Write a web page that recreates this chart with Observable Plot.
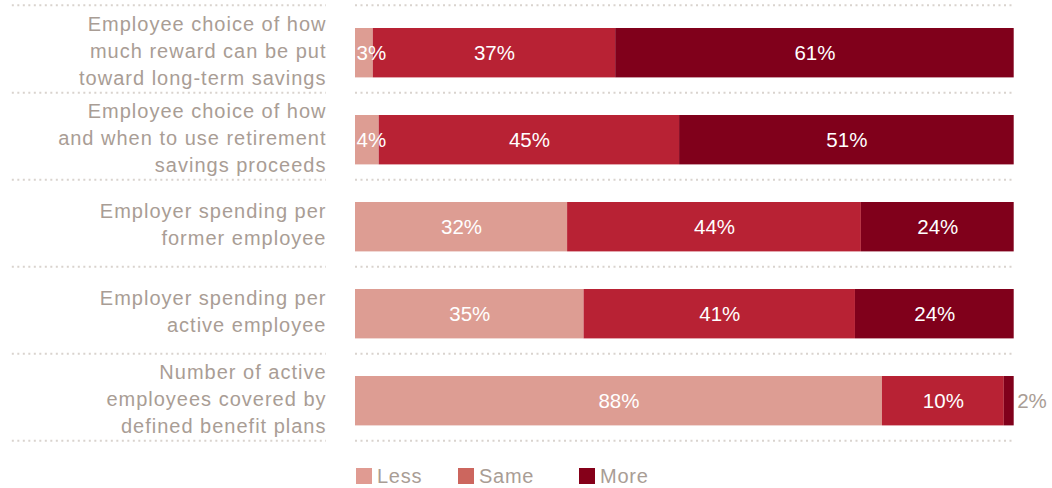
<!DOCTYPE html>
<html>
<head>
<meta charset="utf-8">
<script src="https://cdn.jsdelivr.net/npm/d3@7"></script>
<script src="https://cdn.jsdelivr.net/npm/@observablehq/plot@0.6"></script>
<style>
  html, body { margin: 0; padding: 0; background: #fff; }
  body { width: 1052px; height: 488px; overflow: hidden; font-family: "Liberation Sans", Arial, Helvetica, sans-serif; }
  #legend { height: 24px; margin-top: 12px; position: relative; font-size: 20px; line-height: 24px; color: #a99d95; letter-spacing: 0.75px; }
  .item { position: absolute; top: 0; display: flex; align-items: center; }
  .sw { width: 16px; height: 16px; margin-right: 5px; display: inline-block; }
</style>
</head>
<body>
<div id="chart"></div>
<div id="legend"></div>
<script>
const questions = [
  "Employee choice of how\nmuch reward can be put\ntoward long-term savings",
  "Employee choice of how\nand when to use retirement\nsavings proceeds",
  "Employer spending per\nformer employee",
  "Employer spending per\nactive employee",
  "Number of active\nemployees covered by\ndefined benefit plans"
];
const categories = ["Less", "Same", "More"];
// bar lengths as drawn (percent of bar width)
const lessValues = [2.7, 3.6, 32.2, 34.7, 80];
const sameValues = [36.8, 45.6, 44.6, 41.2, 18.5];
const moreValues = [60.5, 50.8, 23.2, 24.1, 1.5];
// printed labels
const lessLabels = ["3%", "4%", "32%", "35%", "88%"];
const sameLabels = ["37%", "45%", "44%", "41%", "10%"];
const moreLabels = ["61%", "51%", "24%", "24%", "2%"];
// label placement
const lessPlace = ["start", "start", "center", "center", "center"];
const samePlace = ["center", "center", "center", "center", "center"];
const morePlace = ["center", "center", "center", "center", "out"];

const barColors = ["#dd9d93", "#b82234", "#80001b"];
const legendColors = ["#e09b92", "#cc665e", "#850019"];
const grey = "#a99d95";
const dotColor = "#d9d3ce";

const values = [lessValues, sameValues, moreValues];
const labels = [lessLabels, sameLabels, moreLabels];
const places = [lessPlace, samePlace, morePlace];
const table = [];
questions.forEach((q, i) => {
  categories.forEach((c, j) => {
    table.push({q, cat: c, value: values[j][i], label: labels[j][i], place: places[j][i]});
  });
});

const half = 43.8;
const dotted = {stroke: dotColor, strokeWidth: 2, strokeDasharray: "2,3.5"};
const chart = Plot.plot({
  width: 1052,
  height: 452,
  marginLeft: 355,
  marginRight: 38.3,
  marginTop: 3,
  marginBottom: 11,
  x: {domain: [0, 100], axis: null},
  y: {domain: questions, axis: null, padding: 0},
  color: {domain: categories, range: barColors},
  style: {fontFamily: "'Liberation Sans', Arial, Helvetica, sans-serif", fontSize: "20px", background: "transparent"},
  marks: [
    Plot.ruleY(questions, {y: d => d, dy: half, x1: 0, x2: 100, ...dotted}),
    Plot.ruleY(questions.slice(0, 1), {y: d => d, dy: -half, x1: 0, x2: 100, ...dotted}),
    Plot.ruleY(questions, {y: d => d, dy: half, x1: -52.1, x2: -4.4, ...dotted}),
    Plot.ruleY(questions.slice(0, 1), {y: d => d, dy: -half, x1: -52.1, x2: -4.4, ...dotted}),
    Plot.barX(table, Plot.stackX({x: "value", y: "q", fill: "cat", insetTop: 23, insetBottom: 14.6})),
    Plot.text(table, Plot.stackX({x: "value", y: "q", z: "cat",
      text: d => d.place === "center" ? d.label : null, fill: "white", fontSize: 20.5, dy: 4.2})),
    Plot.text(table, Plot.stackX1({x: "value", y: "q", z: "cat",
      text: d => d.place === "start" ? d.label : null, fill: "white", fontSize: 20.5, dy: 4.2, dx: 1, textAnchor: "start"})),
    Plot.text(table, Plot.stackX2({x: "value", y: "q", z: "cat",
      text: d => d.place === "out" ? d.label : null, fill: grey, fontSize: 20.5, dy: 4.2, dx: 3, textAnchor: "start"})),
    Plot.text(questions, {x: () => 0, y: d => d, text: d => d, textAnchor: "end", dx: -29,
      lineHeight: 1.35, fontSize: 20, fill: grey, ariaLabel: () => "question"})
  ]
});
d3.select(chart).selectAll('[aria-label="question"]').style("letter-spacing", "1px");
document.getElementById("chart").appendChild(chart);

const legend = document.getElementById("legend");
const legendLeft = [356, 458, 579];
categories.forEach((c, i) => {
  const item = document.createElement("div");
  item.className = "item";
  item.style.left = legendLeft[i] + "px";
  const sw = document.createElement("span");
  sw.className = "sw";
  sw.style.background = legendColors[i];
  const t = document.createElement("span");
  t.textContent = c;
  item.appendChild(sw);
  item.appendChild(t);
  legend.appendChild(item);
});
</script>
</body>
</html>
